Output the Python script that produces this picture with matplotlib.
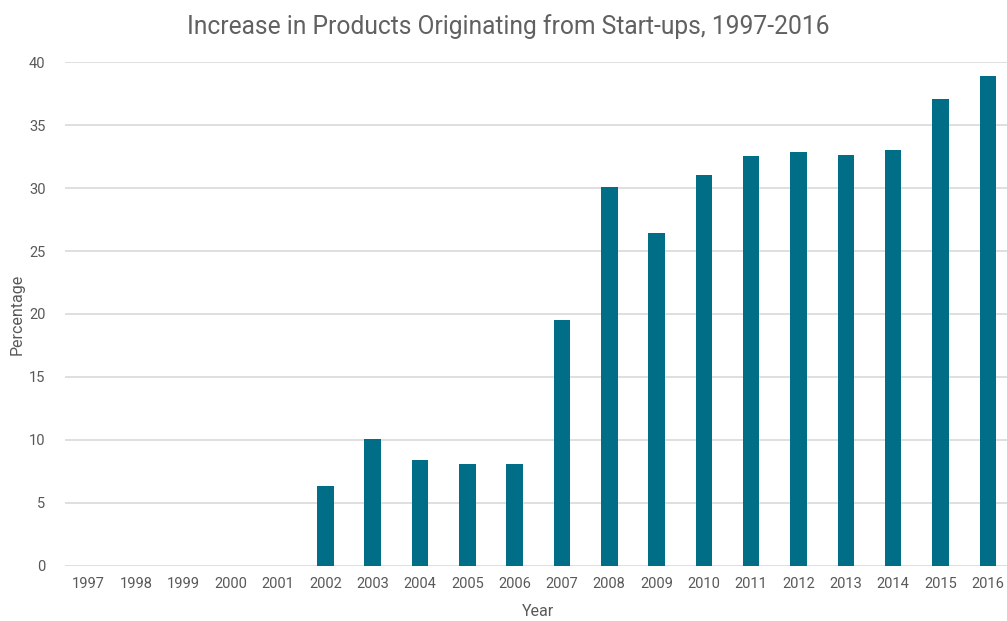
import matplotlib
matplotlib.use("Agg")
import matplotlib.pyplot as plt

years = [str(y) for y in range(1997, 2017)]
values = [0, 0, 0, 0, 0, 6.33, 10.05, 8.39, 8.07, 8.07,
          19.5, 30.1, 26.46, 31.03, 32.54, 32.86, 32.62, 33.02, 37.06, 38.89]
yticks = [0, 5, 10, 15, 20, 25, 30, 35, 40]

plt.rcParams['font.family'] = ['Roboto', 'DejaVu Sans']
text_color = '#595959'
bar_color = '#006E87'

fig = plt.figure(figsize=(10.07, 6.21), dpi=100)
ax = fig.add_axes([65/1007, 1-565.5/621, (1011.5-65)/1007, (565.5-62.3)/621])

x = list(range(len(years)))
ax.bar(x, values, width=0.35, color=bar_color, zorder=3)
ax.set_xlim(-0.5, len(years) - 0.5)
ax.set_ylim(0, 40)
ax.set_yticks(yticks)
ax.set_xticks(x)
ax.set_xticklabels(years)
ax.grid(axis='y', color='#d9d9d9', linewidth=1.2, zorder=0)
ax.tick_params(axis='both', length=0, labelsize=10.5, colors=text_color)
ax.tick_params(axis='y', pad=14)
ax.tick_params(axis='x', pad=8)
for s in ax.spines.values():
    s.set_visible(False)
ax.set_xlabel('Year', fontsize=11.5, color=text_color, labelpad=10)
ax.set_ylabel('Percentage', fontsize=11.5, color=text_color, labelpad=3)
fig.text(508/1007, 1-27/621, 'Increase in Products Originating from Start-ups, 1997-2016',
         ha='center', va='center', fontsize=17.7, color='#616161')

fig.savefig('out.png', dpi=100)
